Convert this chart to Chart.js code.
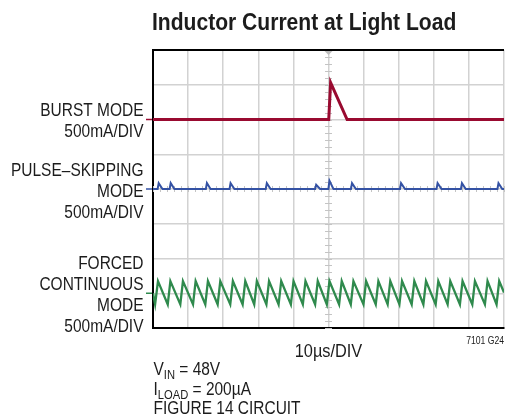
<!DOCTYPE html>
<html>
<head>
<meta charset="utf-8">
<script src="https://cdn.jsdelivr.net/npm/chart.js@4.4.0/dist/chart.umd.min.js"></script>
<style>
  html, body { margin: 0; padding: 0; background: #fff; }
  #scope { display: block; }
</style>
</head>
<body>
<canvas id="scope" width="505" height="420"></canvas>
<script>
// Inductor current at light load - scope capture, 10us/DIV, 500mA/DIV
const mAPerDiv = 500;

// Burst Mode trace (time in us, current in mA above its ground marker)
const burstTime    = [0, 50.07, 50.6, 55.3, 100];
const burstCurrent = [0, 0, 530, 0, 0];

// Pulse-skipping trace
const pulseTime = [0,
  1.32, 1.62, 2.7,
  4.74, 5.04, 6.1,
  15.06, 15.36, 16.4,
  21.8, 22.1, 23.2,
  32.13, 32.43, 33.5,
  46.19, 46.49, 47.6,
  49.97, 50.27, 51.4,
  56.4, 56.7, 57.8,
  70.37, 70.67, 71.8,
  80.78, 81.08, 82.2,
  87.72, 88.02, 89.1,
  98.13, 98.43, 99.5,
  100];
const pulseCurrent = [0,
  0, 85, 0,
  0, 85, 0,
  0, 85, 0,
  0, 85, 0,
  0, 85, 0,
  0, 60, 0,
  0, 120, 0,
  0, 85, 0,
  0, 85, 0,
  0, 85, 0,
  0, 85, 0,
  0, 85, 0,
  0];

// Forced continuous trace: valley / peak times
const fcmValleyTime = [0.6, 4.2, 7.78, 11.4, 14.9, 18.42, 22.01, 25.54, 28.84, 32.31,
  35.78, 39.28, 42.69, 46.19, 49.52, 53.02, 56.35, 59.96, 63.46, 66.85,
  70.2, 73.7, 77.03, 80.53, 83.94, 87.44, 90.97, 94.56, 97.88];
const fcmPeakTime = [1.42, 4.95, 8.53, 12.15, 15.65, 19.17, 22.76, 26.29, 29.59, 33.06,
  36.53, 40.03, 43.44, 46.94, 50.27, 53.77, 57.10, 60.71, 64.21, 67.6,
  70.95, 74.45, 77.78, 81.28, 84.69, 88.19, 91.72, 95.31, 98.63];
const fcmValley = -160;
const fcmPeak = 175;
const fcmStart = 0;
const fcmEnd = 10;

// trace ground levels (divisions from bottom of screen)
const burstGround = 6;
const pulseGround = 4;
const fcmGround = 1;

const colors = {
  burst: '#990a30',
  pulse: '#3452a4',
  fcm: '#2f8a4d',
  grid: '#d2d2d2',
  minor: '#c4c4c4',
  text: '#1c1c1c'
};

// no condensed font installed, so squeeze Liberation Sans horizontally
const FONT = "'Liberation Sans', Arial, sans-serif";
const SQUEEZE = 0.86;

function toPoints(times, currents, ground) {
  return times.map((t, i) => ({ x: t, y: ground + currents[i] / mAPerDiv }));
}

// interleave valleys and peaks for the sawtooth
const fcmTime = [0];
const fcmCurrent = [fcmStart];
fcmValleyTime.forEach((t, i) => {
  fcmTime.push(t, fcmPeakTime[i]);
  fcmCurrent.push(fcmValley, fcmPeak);
});
fcmTime.push(100);
fcmCurrent.push(fcmEnd);

function narrowText(ctx, text, x, y, font, align) {
  ctx.save();
  ctx.font = font;
  ctx.textAlign = align || 'left';
  ctx.translate(x, y);
  ctx.scale(SQUEEZE, 1);
  ctx.fillText(text, 0, 0);
  const w = ctx.measureText(text).width * SQUEEZE;
  ctx.restore();
  return w;
}

// grid extras, ground markers and all the text around the screen
const scopeDecor = {
  id: 'scopeDecor',
  beforeDatasetsDraw(chart) {
    const ctx = chart.ctx;
    const xs = chart.scales.x, ys = chart.scales.y;
    const xc = xs.getPixelForValue(50);
    const yc = ys.getPixelForValue(4);
    ctx.save();
    ctx.strokeStyle = colors.minor;
    ctx.lineWidth = 1;
    ctx.beginPath();
    for (let i = 0; i <= 40; i++) {
      const y = Math.round(ys.getPixelForValue(i / 5)) + 0.5;
      ctx.moveTo(xc - 3.5, y);
      ctx.lineTo(xc + 3.5, y);
    }
    for (let i = 0; i <= 50; i++) {
      const x = Math.round(xs.getPixelForValue(i * 2)) + 0.5;
      ctx.moveTo(x, yc - 3);
      ctx.lineTo(x, yc + 3);
    }
    ctx.stroke();
    // trigger marker at top centre
    ctx.fillStyle = '#bdbdbd';
    ctx.beginPath();
    ctx.moveTo(xc - 4, chart.chartArea.top + 1);
    ctx.lineTo(xc + 4, chart.chartArea.top + 1);
    ctx.lineTo(xc, chart.chartArea.top + 5);
    ctx.closePath();
    ctx.fill();
    ctx.restore();
  },
  afterDraw(chart) {
    const ctx = chart.ctx;
    const area = chart.chartArea;
    const ys = chart.scales.y;
    ctx.save();

    // top border
    ctx.strokeStyle = '#000';
    ctx.lineWidth = 2;
    ctx.beginPath();
    ctx.moveTo(area.left - 1, area.top);
    ctx.lineTo(area.right, area.top);
    ctx.stroke();

    // ground markers left of the screen
    [[burstGround, colors.burst], [pulseGround, colors.pulse], [fcmGround, colors.fcm]].forEach(([g, c]) => {
      const y = ys.getPixelForValue(g);
      ctx.strokeStyle = c;
      ctx.lineWidth = 1.5;
      ctx.beginPath();
      ctx.moveTo(area.left - 7, y);
      ctx.lineTo(area.left - 1, y);
      ctx.stroke();
    });

    ctx.fillStyle = colors.text;
    ctx.textBaseline = 'alphabetic';

    // title
    narrowText(ctx, 'Inductor Current at Light Load', 152, 30, 'bold 24.5px ' + FONT, 'left');

    // trace labels
    const labelFont = '18px ' + FONT;
    const labels = [
      ['BURST MODE', 116], ['500mA/DIV', 136.5],
      ['PULSE\u2013SKIPPING', 176], ['MODE', 196.7], ['500mA/DIV', 217.5],
      ['FORCED', 269.3], ['CONTINUOUS', 290], ['MODE', 310.7], ['500mA/DIV', 331.5]
    ];
    labels.forEach(([t, y]) => narrowText(ctx, t, 143.5, y, labelFont, 'right'));

    // time base
    narrowText(ctx, '10\u00b5s/DIV', (area.left + area.right) / 2, 357, '19px ' + FONT, 'center');
    narrowText(ctx, '7101 G24', 504, 344, '10px ' + FONT, 'right');

    // conditions
    const big = '18px ' + FONT, small = '13px ' + FONT;
    function subLine(main, sub, rest, x, y) {
      x += narrowText(ctx, main, x, y, big, 'left');
      x += narrowText(ctx, sub, x, y + 4, small, 'left');
      narrowText(ctx, rest, x, y, big, 'left');
    }
    subLine('V', 'IN', ' = 48V', 153.5, 375);
    subLine('I', 'LOAD', ' = 200\u00b5A', 153.5, 395);
    narrowText(ctx, 'FIGURE 14 CIRCUIT', 153.5, 413.5, big, 'left');

    ctx.restore();
  }
};

const ctx = document.getElementById('scope').getContext('2d');
new Chart(ctx, {
  type: 'line',
  data: {
    datasets: [
      {
        label: 'Burst Mode',
        data: toPoints(burstTime, burstCurrent, burstGround),
        borderColor: colors.burst,
        borderWidth: 3
      },
      {
        label: 'Pulse-Skipping Mode',
        data: toPoints(pulseTime, pulseCurrent, pulseGround),
        borderColor: colors.pulse,
        borderWidth: 2
      },
      {
        label: 'Forced Continuous Mode',
        data: toPoints(fcmTime, fcmCurrent, fcmGround),
        borderColor: colors.fcm,
        borderWidth: 2.3
      }
    ]
  },
  options: {
    responsive: false,
    animation: false,
    events: [],
    layout: { padding: { left: 153, top: 50, right: 1, bottom: 92 } },
    elements: {
      point: { radius: 0 },
      line: { tension: 0, fill: false }
    },
    plugins: {
      legend: { display: false },
      title: { display: false },
      tooltip: { enabled: false }
    },
    scales: {
      x: {
        type: 'linear',
        min: 0,
        max: 100,
        ticks: { display: false, stepSize: 10 },
        grid: { color: colors.grid, lineWidth: 1.5, drawTicks: false },
        border: { display: true, color: '#000', width: 2 }
      },
      y: {
        type: 'linear',
        min: 0,
        max: 8,
        ticks: { display: false, stepSize: 1 },
        grid: { color: colors.grid, lineWidth: 1.5, drawTicks: false },
        border: { display: true, color: '#000', width: 2 }
      }
    }
  },
  plugins: [scopeDecor]
});
</script>
</body>
</html>
